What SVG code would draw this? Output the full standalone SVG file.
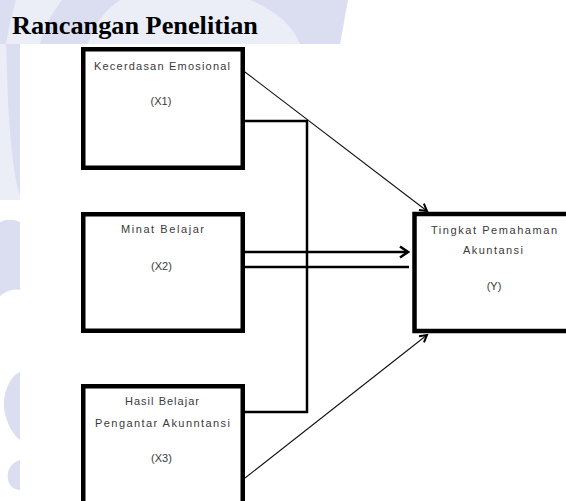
<svg xmlns="http://www.w3.org/2000/svg" width="566" height="501" viewBox="0 0 566 501">
<style>
  .box{fill:#fff;stroke:#000;stroke-width:4.5}
  .lbl{font-family:"Liberation Sans","DejaVu Sans",sans-serif;font-size:11px;fill:#3a3a3a;text-anchor:middle}
  .title{font-family:"Liberation Serif","Times New Roman",serif;font-size:26px;font-weight:bold;fill:#000}
  .thick{fill:none;stroke:#000;stroke-width:2.5}
  .thin{fill:none;stroke:#111;stroke-width:1.1}
  .wm{fill:#dadef0}
  .wm2{fill:#eceef7}
</style>
<defs>
  <marker id="chev" markerWidth="12" markerHeight="14" refX="10" refY="7" orient="auto" markerUnits="userSpaceOnUse">
    <path d="M2,1.5 L10,7 L2,12.5" fill="none" stroke="#000" stroke-width="2.5"/>
  </marker>
  <marker id="small" markerWidth="10" markerHeight="10" refX="8" refY="5" orient="auto" markerUnits="userSpaceOnUse">
    <path d="M1,1 L8,5 L1,9" fill="none" stroke="#000" stroke-width="2"/>
  </marker>
</defs>
<rect width="566" height="501" fill="#fff"/>
<g id="watermark">
  <path class="wm2" d="M0,0 H345 L338,44 H0 Z"/>
  <path class="wm" d="M62,0 H120 C100,14 92,30 88,44 H40 C44,28 52,12 62,0 Z"/>
  <path class="wm" d="M250,0 H348 L340,44 H300 C295,30 280,12 250,0 Z"/>
  <path class="wm" d="M0,0 H16 C12,14 8,30 6,44 H0 Z"/>
  <path class="wm2" d="M0,44 H20 V200 H0 Z"/>
  <path class="wm" d="M6,44 H20 V195 C14,180 10,140 8,100 Z"/>
  <path class="wm" d="M0,222 C8,218 16,220 20,222 V290 C12,288 5,292 0,296 Z"/>
  <path class="wm" d="M20,372 C10,376 3,392 4,408 C6,424 14,436 20,440 Z"/>
  <path class="wm" d="M20,460 C12,462 6,470 8,480 C10,488 16,490 20,490 Z"/>
</g>
<rect x="20" y="44" width="546" height="457" fill="#fff"/>
<text class="title" x="12" y="34" textLength="246" lengthAdjust="spacingAndGlyphs">Rancangan Penelitian</text>
<g id="connectors">
  <path class="thick" d="M245,121 H307 V412 H245"/>
  <line class="thick" x1="245" y1="252" x2="408" y2="252" marker-end="url(#chev)"/>
  <line class="thick" x1="245" y1="267" x2="409" y2="267"/>
  <line class="thin" x1="245" y1="72" x2="427" y2="211" marker-end="url(#small)"/>
  <line class="thin" x1="245" y1="478" x2="427" y2="335" marker-end="url(#small)"/>
</g>
<g id="x1">
  <rect class="box" x="83.25" y="49.25" width="159.5" height="118.5"/>
  <text class="lbl" x="162" y="70" textLength="136" lengthAdjust="spacing">Kecerdasan Emosional</text>
  <text class="lbl" x="161" y="105">(X1)</text>
</g>
<g id="x2">
  <rect class="box" x="83.25" y="214.25" width="159.5" height="116.5"/>
  <text class="lbl" x="162.5" y="233" textLength="83" lengthAdjust="spacing">Minat Belajar</text>
  <text class="lbl" x="161.5" y="270">(X2)</text>
</g>
<g id="x3">
  <rect class="box" x="83.25" y="386.25" width="159.5" height="130"/>
  <text class="lbl" x="162" y="405" textLength="74" lengthAdjust="spacing">Hasil Belajar</text>
  <text class="lbl" x="162.5" y="427" textLength="135" lengthAdjust="spacing">Pengantar Akunntansi</text>
  <text class="lbl" x="161.5" y="462">(X3)</text>
</g>
<g id="y">
  <rect class="box" x="414.5" y="214" width="200" height="117"/>
  <text class="lbl" x="494" y="234" textLength="126" lengthAdjust="spacing">Tingkat Pemahaman</text>
  <text class="lbl" x="493" y="254" textLength="60" lengthAdjust="spacing">Akuntansi</text>
  <text class="lbl" x="494" y="290">(Y)</text>
</g>
</svg>
